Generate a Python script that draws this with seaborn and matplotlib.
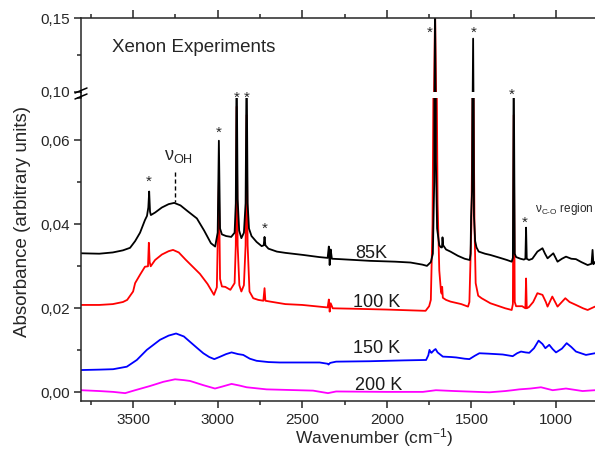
import numpy as np
import pandas as pd
import matplotlib
matplotlib.use("Agg")
import matplotlib.pyplot as plt
import seaborn as sns
from matplotlib.ticker import MultipleLocator, FuncFormatter
from matplotlib.lines import Line2D

# Espectros (numero de onda en cm-1, absorbancia)
wn_85 = [3808, 3700, 3620, 3560, 3518, 3488, 3459, 3430, 3418, 3410, 3405, 3400, 3395, 3370, 3330,
         3290, 3257, 3220, 3180, 3123, 3080, 3040, 3015, 3000, 2993, 2986, 2975, 2950, 2920, 2900,
         2893, 2888, 2882, 2873, 2860, 2845, 2835, 2829, 2823, 2815, 2800, 2770, 2740, 2728, 2723,
         2718, 2700, 2650, 2600, 2494, 2400, 2350, 2343, 2338, 2332, 2325, 2275, 2100, 1950, 1860,
         1790, 1763, 1740, 1728, 1720, 1715, 1710, 1703, 1690, 1680, 1674, 1671, 1667, 1650, 1624,
         1580, 1540, 1510, 1505, 1502, 1496, 1490, 1485, 1478, 1470, 1457, 1420, 1388, 1330, 1290,
         1262, 1255, 1250, 1244, 1236, 1210, 1190, 1181, 1177, 1173, 1160, 1140, 1110, 1080, 1065,
         1050, 1016, 991, 965, 941, 910, 882, 850, 813, 790, 784, 779, 770]
abs_85 = [0.0331, 0.0330, 0.0333, 0.0338, 0.0344, 0.0360, 0.0380, 0.0410, 0.0420, 0.0440, 0.0478, 0.0430,
          0.0422, 0.0428, 0.0440, 0.0448, 0.0451, 0.0445, 0.0432, 0.0414, 0.0385, 0.0355, 0.0347, 0.0380,
          0.0599, 0.0390, 0.0376, 0.0372, 0.0370, 0.0380, 0.0450, 0.0800, 0.0460, 0.0385, 0.0367, 0.0380,
          0.0450, 0.0800, 0.0450, 0.0390, 0.0372, 0.0358, 0.0348, 0.0350, 0.0370, 0.0350, 0.0342, 0.0335,
          0.0332, 0.0327, 0.0322, 0.0320, 0.0347, 0.0303, 0.0340, 0.0318, 0.0317, 0.0313, 0.0311, 0.0309,
          0.0304, 0.0301, 0.0310, 0.0330, 0.0500, 0.1600, 0.0550, 0.0390, 0.0350, 0.0345, 0.0345, 0.0369,
          0.0350, 0.0340, 0.0335, 0.0325, 0.0318, 0.0315, 0.0330, 0.0418, 0.0480, 0.1360, 0.0420, 0.0360,
          0.0345, 0.0335, 0.0330, 0.0327, 0.0320, 0.0315, 0.0311, 0.0320, 0.0800, 0.0330, 0.0322, 0.0318,
          0.0316, 0.0318, 0.0392, 0.0318, 0.0315, 0.0318, 0.0335, 0.0343, 0.0330, 0.0319, 0.0331, 0.0311,
          0.0318, 0.0323, 0.0318, 0.0317, 0.0310, 0.0303, 0.0306, 0.0339, 0.0305, 0.0310]

wn_100 = [3808, 3700, 3620, 3560, 3535, 3500, 3488, 3459, 3430, 3412, 3407, 3402, 3396, 3370, 3330,
          3290, 3264, 3230, 3190, 3150, 3105, 3060, 3022, 3005, 2993, 2986, 2975, 2955, 2925, 2900,
          2893, 2888, 2882, 2872, 2860, 2845, 2835, 2829, 2823, 2812, 2790, 2760, 2730, 2723, 2718,
          2690, 2600, 2500, 2400, 2350, 2343, 2338, 2332, 2320, 2200, 2000, 1850, 1771, 1750, 1740,
          1730, 1722, 1715, 1708, 1700, 1690, 1680, 1676, 1673, 1669, 1650, 1624, 1560, 1520, 1512,
          1500, 1490, 1482, 1475, 1460, 1440, 1388, 1300, 1262, 1255, 1250, 1244, 1236, 1200, 1181,
          1177, 1173, 1160, 1135, 1110, 1080, 1060, 1050, 1022, 991, 945, 920, 882, 840, 813, 770]
abs_100 = [0.0208, 0.0208, 0.0210, 0.0215, 0.0220, 0.0240, 0.0260, 0.0280, 0.0299, 0.0300, 0.0356, 0.0310,
           0.0300, 0.0315, 0.0328, 0.0336, 0.0339, 0.0333, 0.0316, 0.0300, 0.0282, 0.0258, 0.0232, 0.0250,
           0.0500, 0.0270, 0.0252, 0.0251, 0.0244, 0.0260, 0.0350, 0.0680, 0.0350, 0.0255, 0.0240, 0.0255,
           0.0350, 0.0660, 0.0350, 0.0240, 0.0224, 0.0220, 0.0218, 0.0248, 0.0218, 0.0216, 0.0210, 0.0208,
           0.0204, 0.0202, 0.0221, 0.0192, 0.0212, 0.0200, 0.0199, 0.0197, 0.0195, 0.0194, 0.0205, 0.0220,
           0.0400, 0.0900, 0.1550, 0.0900, 0.0450, 0.0290, 0.0240, 0.0235, 0.0251, 0.0225, 0.0220, 0.0216,
           0.0210, 0.0204, 0.0215, 0.0400, 0.0850, 0.0400, 0.0260, 0.0230, 0.0224, 0.0212, 0.0200, 0.0196,
           0.0210, 0.0660, 0.0215, 0.0205, 0.0205, 0.0200, 0.0271, 0.0200, 0.0203, 0.0215, 0.0236, 0.0232,
           0.0215, 0.0204, 0.0228, 0.0204, 0.0224, 0.0215, 0.0208, 0.0200, 0.0196, 0.0204]

wn_150 = [3808, 3700, 3618, 3537, 3478, 3419, 3341, 3290, 3246, 3200, 3163, 3120, 3085, 3050, 3020,
          2990, 2950, 2918, 2880, 2849, 2810, 2770, 2700, 2633, 2500, 2397, 2350, 2345, 2335, 2300,
          2100, 1900, 1768, 1755, 1748, 1740, 1736, 1722, 1712, 1700, 1669, 1620, 1590, 1540, 1512,
          1480, 1453, 1400, 1315, 1270, 1256, 1230, 1207, 1180, 1158, 1130, 1103, 1080, 1063, 1040,
          1020, 1000, 965, 937, 910, 882, 823, 770]
abs_150 = [0.0053, 0.0054, 0.0055, 0.0061, 0.0077, 0.0101, 0.0125, 0.0135, 0.0140, 0.0133, 0.0120, 0.0105,
           0.0093, 0.0084, 0.0079, 0.0084, 0.0091, 0.0095, 0.0091, 0.0089, 0.0080, 0.0075, 0.0072, 0.0071,
           0.0071, 0.0071, 0.0068, 0.0066, 0.0070, 0.0073, 0.0074, 0.0076, 0.0077, 0.0088, 0.0101, 0.0095,
           0.0094, 0.0100, 0.0103, 0.0095, 0.0085, 0.0084, 0.0083, 0.0080, 0.0079, 0.0087, 0.0093, 0.0092,
           0.0090, 0.0087, 0.0086, 0.0093, 0.0097, 0.0095, 0.0094, 0.0105, 0.0123, 0.0115, 0.0105, 0.0113,
           0.0103, 0.0095, 0.0104, 0.0117, 0.0108, 0.0097, 0.0089, 0.0093]

wn_200 = [3808, 3700, 3618, 3547, 3488, 3400, 3321, 3252, 3200, 3163, 3085, 3016, 2970, 2918, 2870,
          2829, 2711, 2436, 2348, 2300, 2000, 1787, 1710, 1600, 1394, 1300, 1256, 1217, 1150, 1089,
          1020, 941, 843, 770]
abs_200 = [0.0005, 0.0003, 0.0001, -0.0002, 0.0005, 0.0015, 0.0025, 0.0031, 0.0029, 0.0027, 0.0017, 0.0009,
           0.0014, 0.0020, 0.0016, 0.0012, 0.0007, 0.0004, -0.0002, 0.0002, 0.0001, 0.0001, 0.0005, 0.0003,
           0.0000, 0.0003, 0.0005, 0.0007, 0.0009, 0.0012, 0.0005, 0.0009, 0.0003, 0.0005]

temps = ["85K", "100 K", "150 K", "200 K"]
colores = ["black", "#ff0000", "#0000ff", "#ff00ff"]
# posicion de las etiquetas de temperatura (cm-1, absorbancia)
temp_x = [2095, 2063, 2060, 2048]
temp_y = [0.0319, 0.0204, 0.0094, 0.0005]

# asteriscos: bandas marcadas
star_x_low = [3405, 2993, 2888, 2829, 2723, 1183]
star_y_low = [0.0491, 0.0608, 0.0691, 0.0691, 0.0379, 0.0395]
star_x_top = [1744, 1488, 1262]
star_y_top = [0.1371, 0.1371, 0.0950]

x_labels = [3500, 3000, 2500, 2000, 1500, 1000]

sns.set_style("ticks")
plt.rcParams["font.family"] = ["Liberation Sans", "DejaVu Sans"]
plt.rcParams["mathtext.fontset"] = "custom"
plt.rcParams["mathtext.rm"] = "Liberation Sans"
plt.rcParams["mathtext.it"] = "Liberation Sans:italic"

fig = plt.figure(figsize=(5.95, 4.5), dpi=100)
x0 = 81 / 595
w = (668 - 81) / 595
ax_top = fig.add_axes([x0, 1 - 91.7 / 450, w, (91.7 - 18) / 450])
ax = fig.add_axes([x0, 1 - 401 / 450, w, (401 - 98.3) / 450])

series = [(wn_85, abs_85), (wn_100, abs_100), (wn_150, abs_150), (wn_200, abs_200)]
for a in [ax, ax_top]:
    for (xs, ys), c in zip(series[::-1], colores[::-1]):
        sns.lineplot(x=xs, y=ys, ax=a, color=c, lw=1.3, estimator=None, sort=False)
    a.set_xlim(3808, 338)
    a.set_xticks(x_labels)
    a.xaxis.set_minor_locator(MultipleLocator(250))
    a.spines["right"].set_visible(False)
    for s in a.spines.values():
        s.set_linewidth(1.1)
    a.tick_params(which="major", direction="out", length=5, width=1.1, labelsize=11, pad=3)
    a.tick_params(which="minor", direction="out", length=3, width=1.1)
    a.yaxis.set_major_formatter(FuncFormatter(lambda v, p: f"{v:.2f}".replace(".", ",")))

ax.set_ylim(-0.00207, 0.0700)
ax.yaxis.set_major_locator(MultipleLocator(0.02))
ax.yaxis.set_minor_locator(MultipleLocator(0.01))
ax.spines["top"].set_visible(False)
ax.tick_params(axis="x", which="major", pad=3.5)

ax_top.set_ylim(0.10, 0.15)
ax_top.yaxis.set_major_locator(MultipleLocator(0.05))
ax_top.yaxis.set_minor_locator(MultipleLocator(0.025))
ax_top.spines["bottom"].set_visible(False)
ax_top.xaxis.tick_top()
ax_top.tick_params(axis="x", which="both", labeltop=False, labelbottom=False, bottom=False)
ax_top.tick_params(axis="x", which="major", length=6)

# union del eje izquierdo y marcas de corte
fig.add_artist(Line2D([x0, x0], [1 - 98.3 / 450, 1 - 91.7 / 450], color="black", lw=1.1))
for yb in [90.5, 96.5]:
    fig.add_artist(Line2D([(x0 * 595 - 6) / 595, (x0 * 595 + 6) / 595],
                          [1 - (yb + 2.5) / 450, 1 - (yb - 2.5) / 450], color="black", lw=1.1))

ax.set_ylabel("")
ax.set_xlabel("")
fig.text(374.5 / 595, 1 - 449 / 450, "Wavenumber (cm$^{\\mathregular{-1}}$)", fontsize=12.5,
         ha="center", va="bottom")
fig.text(0.037, 0.507, "Absorbance (arbitrary units)", rotation=90, fontsize=13.5,
         ha="center", va="center")

ax_top.text(3141, 0.1271, "Xenon Experiments", fontsize=13.5, ha="center", va="baseline")

for t, c, tx, ty in zip(temps, colores, temp_x, temp_y):
    ax.text(tx, ty, t, fontsize=13, ha="center", va="baseline", color="#1a1a1a")

for sx, sy in zip(star_x_low, star_y_low):
    ax.text(sx, sy, "*", fontsize=11, ha="center", va="baseline")
for sx, sy in zip(star_x_top, star_y_top):
    ax_top.text(sx, sy, "*", fontsize=11, ha="center", va="baseline", clip_on=False)

ax.text(3320, 0.0553, "ν$_{\\mathregular{OH}}$", fontsize=13, ha="left", va="baseline")
ax.plot([3251, 3251], [0.0525, 0.0453], color="black", lw=1.0, ls=(0, (3, 2)))
ax.text(1126, 0.0430, "ν$_{\\text{C-O}}$ region", fontsize=8.5, ha="left", va="baseline")

plt.savefig("out.png", dpi=100)
